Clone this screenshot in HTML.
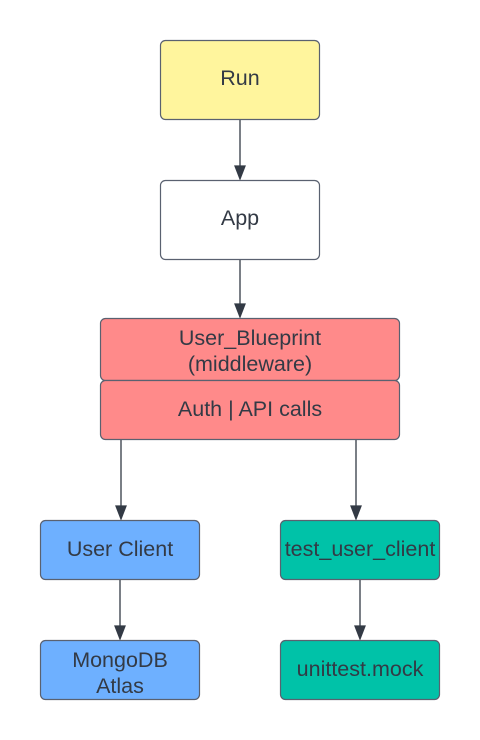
<!DOCTYPE html>
<html><head><style>body{margin:0;background:#fff}svg{display:block}text{font-family:"Liberation Sans",sans-serif;font-size:21.5px;fill:#333a45;text-anchor:middle}</style></head>
<body>
<svg width="480" height="740" viewBox="0 0 480 740">
<g stroke="#333a45" stroke-width="1.3" fill="#333a45">
<line x1="240" y1="120" x2="240" y2="168"/><path d="M235,166 L245,166 L240,179 Z"/>
<line x1="240" y1="260" x2="240" y2="306"/><path d="M235,304 L245,304 L240,317 Z"/>
<line x1="121" y1="440" x2="121" y2="508"/><path d="M116,506 L126,506 L121,519 Z"/>
<line x1="356" y1="440" x2="356" y2="508"/><path d="M351,506 L361,506 L356,519 Z"/>
<line x1="120" y1="580" x2="120" y2="628"/><path d="M115,626 L125,626 L120,639 Z"/>
<line x1="360" y1="580" x2="360" y2="628"/><path d="M355,626 L365,626 L360,639 Z"/>
</g>
<g stroke="#5a6170" stroke-width="1.2">
<rect x="160.5" y="40.5" width="159" height="79" rx="5" fill="#fff59d"/>
<rect x="160.5" y="180.5" width="159" height="79" rx="5" fill="#fff"/>
<rect x="100.5" y="318.5" width="299" height="62" rx="5" fill="#ff8a8a"/>
<rect x="100.5" y="380.5" width="299" height="59" rx="5" fill="#ff8a8a"/>
<rect x="40.5" y="520.5" width="159" height="59" rx="5" fill="#6eb0ff"/>
<rect x="280.5" y="520.5" width="159" height="59" rx="5" fill="#00c2a8"/>
<rect x="40.5" y="640.5" width="159" height="59" rx="5" fill="#6eb0ff"/>
<rect x="280.5" y="640.5" width="159" height="59" rx="5" fill="#00c2a8"/>
</g>
<text x="240" y="85">Run</text>
<text x="240" y="225">App</text>
<text x="250" y="345">User_Blueprint</text>
<text x="250" y="371">(middleware)</text>
<text x="250" y="416">Auth | API calls</text>
<text x="120" y="556">User Client</text>
<text x="360" y="556">test_user_client</text>
<text x="120" y="667">MongoDB</text>
<text x="120" y="693">Atlas</text>
<text x="360" y="676">unittest.mock</text>
</svg>
</body></html>
